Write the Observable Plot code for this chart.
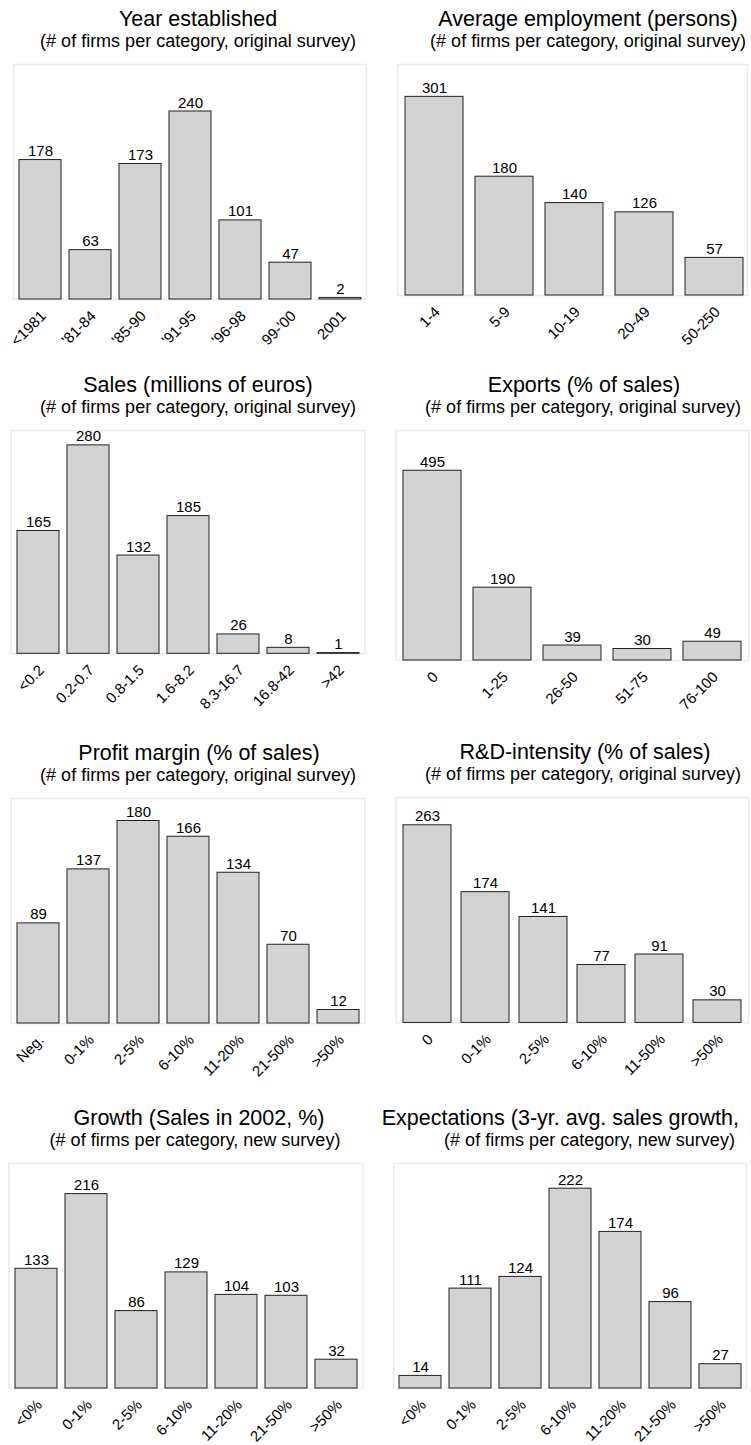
<!DOCTYPE html>
<html>
<head>
<meta charset="utf-8">
<script src="https://cdn.jsdelivr.net/npm/d3@7"></script>
<script src="https://cdn.jsdelivr.net/npm/@observablehq/plot@0.6"></script>
<style>
  body { margin: 0; background: #fff; font-family: "Liberation Sans", Arial, sans-serif; }
  #page { position: relative; width: 751px; height: 1445px; overflow: hidden; background: #fff; }
  .panel { position: absolute; }
  .panel svg { display: block; max-width: none; }
  #overlay { position: absolute; left: 0; top: 0; }
</style>
</head>
<body>
<div id="page"></div>
<script>
// ---- Data ----
const yearCats = ["<1981", "'81-84", "'85-90", "'91-95", "'96-98", "99-'00", "2001"];
const yearVals = [178, 63, 173, 240, 101, 47, 2];

const emplCats = ["1-4", "5-9", "10-19", "20-49", "50-250"];
const emplVals = [301, 180, 140, 126, 57];

const salesCats = ["<0.2", "0.2-0.7", "0.8-1.5", "1.6-8.2", "8.3-16.7", "16.8-42", ">42"];
const salesVals = [165, 280, 132, 185, 26, 8, 1];

const exportCats = ["0", "1-25", "26-50", "51-75", "76-100"];
const exportVals = [495, 190, 39, 30, 49];

const profitCats = ["Neg.", "0-1%", "2-5%", "6-10%", "11-20%", "21-50%", ">50%"];
const profitVals = [89, 137, 180, 166, 134, 70, 12];

const rdCats = ["0", "0-1%", "2-5%", "6-10%", "11-50%", ">50%"];
const rdVals = [263, 174, 141, 77, 91, 30];

const growthCats = ["<0%", "0-1%", "2-5%", "6-10%", "11-20%", "21-50%", ">50%"];
const growthVals = [133, 216, 86, 129, 104, 103, 32];

const expectCats = ["<0%", "0-1%", "2-5%", "6-10%", "11-20%", "21-50%", ">50%"];
const expectVals = [14, 111, 124, 222, 174, 96, 27];

const titles = [
  "Year established",
  "Average employment (persons)",
  "Sales (millions of euros)",
  "Exports (% of sales)",
  "Profit margin (% of sales)",
  "R&D-intensity (% of sales)",
  "Growth (Sales in 2002, %)",
  "Expectations (3-yr. avg. sales growth,"
];
const subOrig = "(# of firms per category, original survey)";
const subNew = "(# of firms per category, new survey)";
const subtitles = [subOrig, subOrig, subOrig, subOrig, subOrig, subOrig, subNew, subNew];
const yMaxes = [300, 350, 300, 600, 200, 300, 250, 250];

const series = [
  [yearCats, yearVals], [emplCats, emplVals], [salesCats, salesVals], [exportCats, exportVals],
  [profitCats, profitVals], [rdCats, rdVals], [growthCats, growthVals], [expectCats, expectVals]
];

// ---- Layout (pixel geometry of each panel) ----
const layout = [
  {col: 0,   fl: 13,    fr: 366,   ft: 64,     fb: 299,    bl: 17.3,  br: 362.3, pad: 0.167, tx: 198, sx: 198},
  {col: 375, fl: 397,   fr: 747,   ft: 64,     fb: 295,    bl: 403.3, br: 745,   pad: 0.165, tx: 588, sx: 588},
  {col: 0,   fl: 10.7,  fr: 364.3, ft: 430,    fb: 653.3,  bl: 15.3,  br: 360,   pad: 0.167, tx: 198, sx: 198},
  {col: 375, fl: 395.7, fr: 748,   ft: 430,    fb: 660,    bl: 401.3, br: 743,   pad: 0.165, tx: 584, sx: 583},
  {col: 0,   fl: 10.7,  fr: 364.3, ft: 797.7,  fb: 1022.7, bl: 15.3,  br: 360,   pad: 0.167, tx: 199, sx: 198},
  {col: 375, fl: 395.7, fr: 748,   ft: 797.3,  fb: 1022.7, bl: 400.3, br: 743.7, pad: 0.167, tx: 585, sx: 583},
  {col: 0,   fl: 8.3,   fr: 362.3, ft: 1163.3, fb: 1388.3, bl: 13.3,  br: 357.7, pad: 0.167, tx: 199, sx: 195},
  {col: 375, fl: 393.3, fr: 746,   ft: 1163.3, fb: 1388.3, bl: 397.3, br: 742.7, pad: 0.163, tx: 381.7, sx: 589.5, tAnchor: "start"}
];

const page = document.getElementById("page");
const FONT = "'Liberation Sans', Arial, Helvetica, sans-serif";

// Titles overlay
const overlay = d3.select(page).append("svg")
  .attr("id", "overlay").attr("width", 751).attr("height", 1445)
  .style("font-family", FONT);

layout.forEach((L, i) => {
  overlay.append("text")
    .attr("x", L.tx).attr("y", L.ft - 38)
    .attr("text-anchor", L.tAnchor || "middle")
    .attr("font-size", 21.5).attr("fill", "#000")
    .text(titles[i]);
  overlay.append("text")
    .attr("x", L.sx).attr("y", L.ft - 17)
    .attr("text-anchor", "middle")
    .attr("font-size", 18).attr("fill", "#000")
    .text(subtitles[i]);
});

// Panels
const TOP = 12, BOTTOM = 60, W = 376;
layout.forEach((L, i) => {
  const [cats, vals] = series[i];
  const data = cats.map((c, j) => ({cat: c, value: vals[j]}));
  const chart = Plot.plot({
    width: W,
    height: (L.fb - L.ft) + TOP + BOTTOM,
    marginLeft: L.fl - L.col,
    marginRight: L.col + W - L.fr,
    marginTop: TOP,
    marginBottom: BOTTOM,
    style: {fontFamily: FONT, background: "transparent", overflow: "visible", color: "#000"},
    x: {domain: cats, paddingInner: L.pad, paddingOuter: 0, insetLeft: L.bl - L.fl, insetRight: L.fr - L.br},
    y: {domain: [0, yMaxes[i]], axis: null},
    marks: [
      Plot.frame({stroke: "#ebebeb", strokeWidth: 1.5}),
      Plot.barY(data, {x: "cat", y: "value", fill: "#d3d3d3", stroke: "#222", strokeWidth: 1}),
      Plot.text(data, {x: "cat", y: "value", text: d => String(d.value), lineAnchor: "bottom", dy: -4, fontSize: 15, fill: "#000"}),
      Plot.axisX({tickRotate: -45, tickSize: 0, tickPadding: 14, fontSize: 15, dx: 3, fill: "#000", label: null})
    ]
  });
  const div = document.createElement("div");
  div.className = "panel";
  div.style.left = L.col + "px";
  div.style.top = (L.ft - TOP) + "px";
  div.appendChild(chart);
  page.appendChild(div);
});
</script>
</body>
</html>
